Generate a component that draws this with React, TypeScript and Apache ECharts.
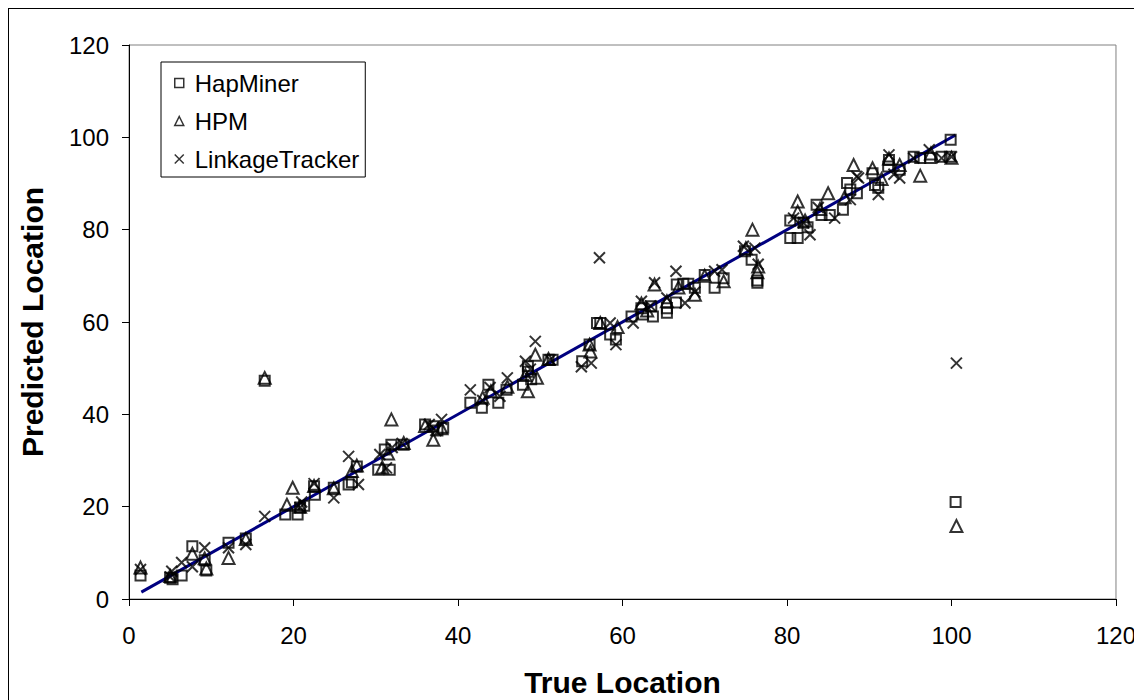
import React, { useEffect, useRef } from "react";
import * as echarts from "echarts";

const xTicks = [0, 20, 40, 60, 80, 100, 120];
const yTicks = [0, 20, 40, 60, 80, 100, 120];

const hapMiner: number[][] = [
  [1.4, 5.1], [5.0, 4.6], [5.3, 4.3], [6.4, 5.1], [7.7, 11.4], [9.2, 8.4], [9.4, 6.2], [12.1, 12.2], [14.2, 13.1],
  [16.5, 47.3], [19.0, 18.3], [20.5, 18.3], [20.8, 19.8], [21.3, 20.2], [22.5, 24.4], [22.6, 22.6], [24.9, 24.1],
  [26.7, 24.8], [27.1, 25.3], [27.7, 28.7], [30.3, 28.0], [31.7, 28.0], [31.1, 32.4], [31.9, 33.4], [33.4, 33.4],
  [36.0, 37.8], [37.0, 37.4], [38.2, 37.1], [37.5, 36.5], [41.5, 42.5], [42.9, 41.4], [43.7, 46.4], [44.9, 42.5],
  [45.9, 45.3], [47.9, 46.4], [48.5, 50.4], [48.5, 49.2], [48.9, 47.6], [51.0, 51.8], [51.5, 51.8], [55.1, 51.5],
  [56.0, 55.1], [56.9, 59.8], [57.3, 59.8], [58.5, 57.3], [59.2, 56.2], [61.1, 61.2], [62.3, 63.0], [62.5, 61.6],
  [63.5, 63.4], [63.7, 61.2], [65.4, 62.0], [65.4, 63.0], [66.5, 64.2], [66.6, 68.1], [67.4, 68.3], [68.0, 68.3],
  [68.8, 67.4], [70.0, 70.2], [71.2, 67.4], [72.3, 69.5], [74.9, 75.3], [75.7, 73.5], [76.4, 68.5], [76.4, 69.0],
  [80.4, 78.2], [81.3, 78.2], [80.4, 82.0], [82.0, 81.5], [82.5, 80.5], [83.6, 85.4], [84.2, 83.2], [85.2, 83.2],
  [86.8, 84.3], [87.3, 90.1], [87.7, 88.7], [88.5, 87.9], [90.4, 92.2], [90.7, 89.7], [91.1, 89.1], [92.3, 93.7],
  [92.4, 95.1], [93.7, 93.0], [95.4, 95.8], [96.2, 95.5], [97.4, 95.5], [98.8, 95.8], [99.8, 95.8], [99.9, 99.5],
  [100.5, 21.0],
];

const hpm: number[][] = [
  [1.4, 6.8], [5.0, 5.0], [7.7, 9.8], [9.2, 8.8], [9.4, 6.6], [12.1, 8.9], [14.2, 13.0], [16.5, 47.9], [19.2, 20.4],
  [19.9, 24.1], [20.8, 20.0], [22.5, 24.5], [24.9, 24.0], [27.1, 27.7], [27.7, 28.9], [31.9, 38.9], [30.8, 28.5],
  [31.5, 31.5], [33.4, 33.8], [37.0, 34.5], [36.0, 37.5], [38.0, 37.0], [43.0, 43.6], [44.0, 45.0], [46.0, 46.0],
  [48.5, 45.0], [49.4, 52.9], [49.6, 47.9], [48.2, 48.5], [51.0, 52.0], [56.0, 55.1], [56.1, 53.6], [57.3, 59.8],
  [59.4, 58.9], [62.3, 64.0], [63.0, 62.5], [63.9, 68.1], [65.4, 64.5], [66.8, 67.5], [68.8, 65.9], [70.0, 70.0],
  [72.3, 68.8], [75.8, 80.0], [76.5, 72.0], [76.4, 70.8], [75.0, 76.0], [81.3, 86.1], [81.3, 83.9], [82.2, 82.0],
  [85.0, 87.9], [84.0, 84.5], [87.0, 87.0], [88.1, 94.0], [90.4, 93.3], [91.5, 91.0], [92.4, 95.4], [93.7, 94.0],
  [96.2, 91.7], [97.5, 96.5], [100.0, 95.6], [100.6, 15.8],
];

const linkageTracker: number[][] = [
  [1.4, 6.4], [5.2, 6.0], [5.0, 4.8], [6.4, 7.9], [7.7, 7.0], [9.2, 11.1], [12.1, 11.1], [14.2, 11.8], [16.5, 17.9],
  [20.8, 19.8], [21.0, 21.0], [22.5, 25.0], [24.9, 21.9], [26.7, 30.9], [27.9, 24.8], [30.5, 31.3], [31.3, 28.4],
  [32.0, 32.8], [33.2, 33.7], [36.5, 37.8], [38.0, 38.9], [37.3, 36.5], [41.5, 45.3], [43.9, 45.8], [43.0, 43.0],
  [45.1, 43.9], [46.0, 47.9], [48.2, 51.5], [49.4, 55.8], [48.8, 49.8], [51.2, 51.8], [55.0, 50.3], [56.2, 51.1],
  [57.2, 73.9], [58.5, 59.8], [59.2, 55.1], [61.3, 59.8], [62.3, 64.5], [63.4, 63.5], [63.9, 68.5], [65.4, 65.2],
  [66.5, 71.0], [67.6, 64.1], [68.8, 66.5], [71.2, 71.0], [72.1, 71.3], [74.7, 76.4], [76.1, 76.0], [76.5, 72.5],
  [80.8, 82.5], [82.0, 81.5], [82.8, 78.9], [83.8, 84.8], [85.8, 82.5], [87.7, 86.5], [88.5, 91.5], [88.7, 91.2],
  [91.1, 87.6], [92.4, 96.2], [93.7, 91.2], [93.0, 92.0], [95.4, 95.5], [97.3, 97.3], [98.8, 95.5], [100.0, 95.8],
  [100.6, 51.1],
];

const fitLine: number[][] = [
  [1.5, 1.5],
  [100.5, 100.5],
];

const FONT = "'Liberation Sans', Arial, sans-serif";

export default function App() {
  const ref = useRef<HTMLDivElement>(null);
  useEffect(() => {
    if (!ref.current) return;
    const chart = echarts.init(ref.current, undefined, { renderer: "svg" });
    const marker = {
      color: "transparent",
      borderColor: "#000",
      borderWidth: 2,
    };
    chart.setOption({
      animation: false,
      backgroundColor: "#fff",
      textStyle: { fontFamily: FONT },
      grid: {
        left: 120,
        top: 36,
        width: 987,
        height: 554,
        show: true,
        borderColor: "#808080",
        borderWidth: 1,
      },
      legend: {
        orient: "vertical",
        left: 152,
        top: 53,
        padding: [9, 6, 6, 13],
        itemGap: 14,
        itemWidth: 9,
        itemHeight: 9,
        borderColor: "#000",
        borderWidth: 1,
        backgroundColor: "#fff",
        data: ["HapMiner", "HPM", "LinkageTracker"],
        itemStyle: { borderWidth: 1.5 },
        textStyle: { fontFamily: FONT, fontSize: 24, color: "#000", padding: [0, 0, 0, 6] },
      },
      xAxis: {
        type: "value",
        min: xTicks[0],
        max: xTicks[xTicks.length - 1],
        interval: 20,
        name: "True Location",
        nameLocation: "middle",
        nameGap: 68,
        nameTextStyle: { fontFamily: FONT, fontSize: 30, fontWeight: "bold", color: "#000" },
        axisLine: { show: true, lineStyle: { color: "#000", width: 1 } },
        axisTick: { show: true, length: 7, lineStyle: { color: "#000" } },
        axisLabel: { fontFamily: FONT, fontSize: 24, color: "#000", margin: 24 },
        splitLine: { show: false },
      },
      yAxis: {
        type: "value",
        min: yTicks[0],
        max: yTicks[yTicks.length - 1],
        interval: 20,
        name: "Predicted Location",
        nameLocation: "middle",
        nameGap: 82,
        nameTextStyle: { fontFamily: FONT, fontSize: 30, fontWeight: "bold", color: "#000" },
        axisLine: { show: true, lineStyle: { color: "#000", width: 1 } },
        axisTick: { show: true, length: 7, lineStyle: { color: "#000" } },
        axisLabel: { fontFamily: FONT, fontSize: 24, color: "#000", margin: 20 },
        splitLine: { show: false },
      },
      series: [
        {
          name: "fit",
          type: "line",
          data: fitLine,
          symbol: "none",
          lineStyle: { color: "#000080", width: 3 },
          z: 1,
          silent: true,
        },
        {
          name: "HapMiner",
          type: "scatter",
          data: hapMiner,
          symbol: "rect",
          symbolSize: 10,
          itemStyle: marker,
          z: 2,
        },
        {
          name: "HPM",
          type: "scatter",
          data: hpm,
          symbol: "triangle",
          symbolSize: 12,
          itemStyle: marker,
          z: 2,
        },
        {
          name: "LinkageTracker",
          type: "scatter",
          data: linkageTracker,
          symbol: "path://M0,0L10,10M0,10L10,0",
          symbolSize: 11,
          itemStyle: marker,
          z: 2,
        },
      ],
    });
    return () => chart.dispose();
  }, []);
  return (
    <div
      style={{
        width: 1132,
        height: 700,
        border: "1px solid #000",
        boxSizing: "border-box",
        background: "#fff",
      }}
    >
      <div ref={ref} style={{ width: 1130, height: 698 }} />
    </div>
  );
}
